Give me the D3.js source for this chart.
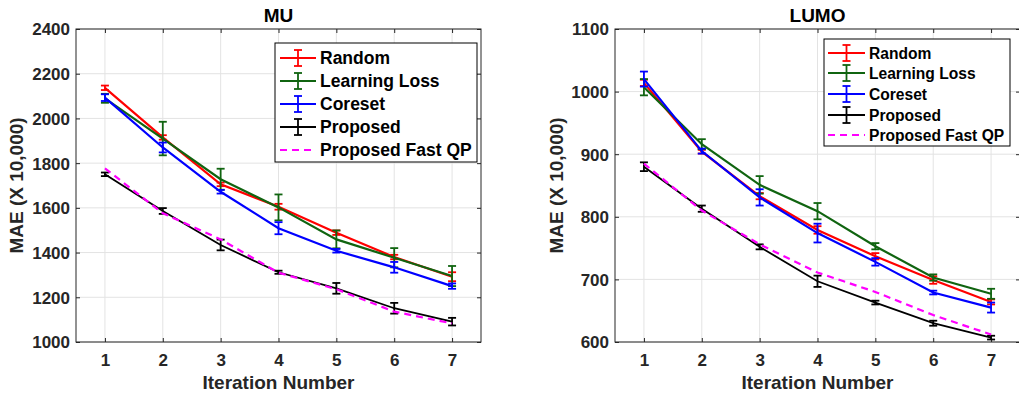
<!DOCTYPE html>
<html><head><meta charset="utf-8">
<script src="https://cdn.jsdelivr.net/npm/d3@7"></script>
<style>body{margin:0;background:#fff;}svg{display:block;font-family:"Liberation Sans",Arial,sans-serif;font-weight:bold;}</style>
</head><body>
<svg id="c" width="1019" height="393"></svg>
<script>
const iterations = [1,2,3,4,5,6,7];
const seriesNames = ["Random","Learning Loss","Coreset","Proposed","Proposed Fast QP"];
const seriesColors = ["#ff0000","#106410","#0000ff","#000000","#ff00ff"];

// MU panel
const muTitle = "MU";
const muTicks = [1000,1200,1400,1600,1800,2000,2200,2400];
const muRandom = [2137,1915,1705,1605,1489,1380,1292];
const muRandomErr = [10,10,8,13,10,10,20];
const muLL = [2090,1910,1728,1602,1459,1377,1295];
const muLLErr = [20,75,47,58,40,43,45];
const muCoreset = [2093,1870,1672,1509,1408,1334,1250];
const muCoresetErr = [15,22,8,27,8,24,12];
const muProposed = [1750,1586,1434,1312,1240,1151,1091];
const muProposedErr = [8,13,24,7,24,24,17];
const muFast = [1777,1576,1459,1310,1236,1136,1083];

// LUMO panel
const lumoTitle = "LUMO";
const lumoTicks = [600,700,800,900,1000,1100];
const lumoRandom = [1014,904,833,779,737,699,664];
const lumoRandomErr = [5,3,5,6,5,6,4];
const lumoLL = [1007,916,851,809,753,703,677];
const lumoLLErr = [13,8,14,13,5,5,8];
const lumoCoreset = [1020,905,831,774,728,679,655];
const lumoCoresetErr = [12,4,13,15,6,3,8];
const lumoProposed = [880,813,752,697,663,630,607];
const lumoProposedErr = [7,5,4,9,3,4,3];
const lumoFast = [885,810,756,711,680,643,612];

const panels = [
  {title:muTitle, ticks:muTicks, dom:[1000,2400], x0:76, x1:481, tickFs:17, legFs:17.5,
   leg:{x0:275,x1:477,y0:43,y1:162,rows:[58,81,104,127,150],lx0:280,lx1:316,tx:320},
   ylabX:23, tickGap:6,
   vals:[muRandom,muLL,muCoreset,muProposed,muFast],
   errs:[muRandomErr,muLLErr,muCoresetErr,muProposedErr,null]},
  {title:lumoTitle, ticks:lumoTicks, dom:[600,1100], x0:615, x1:1020, tickFs:17, legFs:15.6,
   leg:{x0:824,x1:1010,y0:39,y1:146,rows:[53,73,94,115,135],lx0:828,lx1:865,tx:869},
   ylabX:563, tickGap:6,
   vals:[lumoRandom,lumoLL,lumoCoreset,lumoProposed,lumoFast],
   errs:[lumoRandomErr,lumoLLErr,lumoCoresetErr,lumoProposedErr,null]}
];

const svg = d3.select("#c");
const yTop = 29, yBot = 342;
const axCol = "#262626";

panels.forEach(p => {
  const x = d3.scaleLinear().domain([0.5,7.5]).range([p.x0,p.x1]);
  const y = d3.scaleLinear().domain(p.dom).range([yBot,yTop]);
  const g = svg.append("g");
  g.selectAll(".gx").data(iterations).join("line")
    .attr("x1",d=>x(d)).attr("x2",d=>x(d)).attr("y1",yTop).attr("y2",yBot)
    .attr("stroke","#e3e3e3").attr("stroke-width",1);
  g.selectAll(".gy").data(p.ticks).join("line")
    .attr("x1",p.x0).attr("x2",p.x1).attr("y1",d=>y(d)).attr("y2",d=>y(d))
    .attr("stroke","#e3e3e3").attr("stroke-width",1);
  const xa = g.append("g").attr("transform",`translate(0,${yBot})`)
    .call(d3.axisBottom(x).tickValues(iterations).tickSize(-4).tickFormat(d3.format("d")));
  const xt = g.append("g").attr("transform",`translate(0,${yTop})`)
    .call(d3.axisTop(x).tickValues(iterations).tickSize(-4).tickFormat(""));
  const ya = g.append("g").attr("transform",`translate(${p.x0},0)`)
    .call(d3.axisLeft(y).tickValues(p.ticks).tickSize(-4).tickPadding(p.tickGap).tickFormat(d3.format("d")));
  const yr = g.append("g").attr("transform",`translate(${p.x1},0)`)
    .call(d3.axisRight(y).tickValues(p.ticks).tickSize(-4).tickFormat(""));
  [xa,xt,ya,yr].forEach(a=>{
    a.select(".domain").remove();
    a.selectAll("line").attr("stroke",axCol);
    a.selectAll("text").attr("fill",axCol).style("font-size",p.tickFs+"px").style("font-weight","bold").style("font-family","'Liberation Sans',Arial,sans-serif");
  });
  xa.selectAll("text").attr("dy",null).attr("y",366-yBot);
  ya.selectAll("text").attr("dy","0.35em");
  const line = d3.line().x((d,i)=>x(iterations[i])).y(d=>y(d));
  [0,1,2,3,4].forEach(si => {
    const vals = p.vals[si], errs = p.errs[si];
    const col = seriesColors[si];
    const sw = si===3 ? 1.8 : 2.2;
    g.append("path").datum(vals).attr("d",line).attr("fill","none")
      .attr("stroke",col).attr("stroke-width",sw)
      .attr("stroke-dasharray", si===4 ? "7,5" : null);
    if (errs) {
      const eb = g.append("g");
      vals.forEach((v,i)=>{
        const cx = x(iterations[i]);
        eb.append("line").attr("x1",cx).attr("x2",cx).attr("y1",y(v-errs[i])).attr("y2",y(v+errs[i])).attr("stroke",col).attr("stroke-width",1.8);
        [v-errs[i], v+errs[i]].forEach(e=>{
          eb.append("line").attr("x1",cx-4).attr("x2",cx+4).attr("y1",y(e)).attr("y2",y(e)).attr("stroke",col).attr("stroke-width",1.8);
        });
      });
    }
  });
  g.append("rect").attr("x",p.x0).attr("y",yTop).attr("width",p.x1-p.x0).attr("height",yBot-yTop)
    .attr("fill","none").attr("stroke",axCol).attr("stroke-width",1);
  g.append("text").attr("x",(p.x0+p.x1)/2).attr("y",22).attr("text-anchor","middle")
    .style("font-size","19px").attr("fill","#000").text(p.title);
  g.append("text").attr("x",(p.x0+p.x1)/2).attr("y",389).attr("text-anchor","middle")
    .style("font-size","19px").attr("fill",axCol).text("Iteration Number");
  g.append("text").attr("transform",`translate(${p.ylabX},${(yTop+yBot)/2}) rotate(-90)`)
    .attr("text-anchor","middle").style("font-size","19px").attr("fill",axCol).text("MAE (X 10,000)");
  const L = p.leg;
  g.append("rect").attr("x",L.x0).attr("y",L.y0).attr("width",L.x1-L.x0).attr("height",L.y1-L.y0)
    .attr("fill","#fff").attr("stroke","#000").attr("stroke-width",1);
  seriesNames.forEach((nm,si)=>{
    const ry = L.rows[si], col = seriesColors[si];
    g.append("line").attr("x1",L.lx0).attr("x2",L.lx1).attr("y1",ry).attr("y2",ry)
      .attr("stroke",col).attr("stroke-width",si===3?1.8:2.2).attr("stroke-dasharray",si===4?"7,5":null);
    if (si<4) {
      const mx=(L.lx0+L.lx1)/2;
      g.append("line").attr("x1",mx).attr("x2",mx).attr("y1",ry-8).attr("y2",ry+8).attr("stroke",col).attr("stroke-width",1.8);
      [ry-8,ry+8].forEach(e=>g.append("line").attr("x1",mx-4).attr("x2",mx+4).attr("y1",e).attr("y2",e).attr("stroke",col).attr("stroke-width",1.8));
    }
    g.append("text").attr("x",L.tx).attr("y",ry).attr("dy","0.36em").style("font-size",p.legFs+"px").attr("fill","#000").text(nm);
  });
});
</script>
</body></html>
